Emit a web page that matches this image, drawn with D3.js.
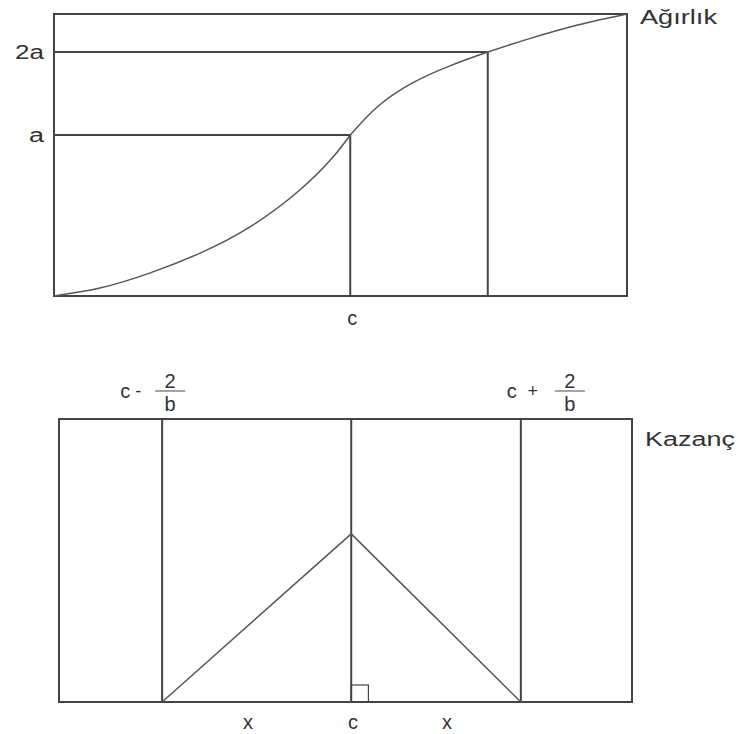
<!DOCTYPE html>
<html>
<head>
<meta charset="utf-8">
<script src="https://cdn.jsdelivr.net/npm/d3@7"></script>
<style>
  body { margin: 0; background: #fff; }
  text { font-family: "Liberation Sans", Arial, sans-serif; fill: #333; }
</style>
</head>
<body>
<div id="chart"></div>
<script>
// Top panel: weight curve (x and y in 0-100 units)
const curveLeft = [[0, 0], [8, 2.8], [16.8, 8.2], [25.5, 15.2], [34.2, 24.5], [42.9, 37.6], [48.7, 49.3], [51.7, 57.1]];
const curveRight = [[51.7, 57.1], [56.5, 67.2], [62.5, 75.5], [69.1, 81.6], [75.7, 86.5], [82.7, 91.1], [91.4, 96.1], [100, 100]];
const levelLabels = ['a', '2a'];
const levelValues = [57.1, 86.5];
const levelX = [51.7, 75.7];
const topTickLabels = ['c'];
const topTickX = [51.7];

// Bottom panel: gain
const gainMarks = [18.0, 51.0, 80.6];
const gainApex = [51.0, 59.4];
const gainBottomLabels = ['x', 'c', 'x'];
const gainBottomX = [33.0, 51.3, 67.7];
const gainTopSigns = ['-', '+'];

const W = 738, H = 734;
const svg = d3.select('#chart').append('svg')
    .attr('width', W)
    .attr('height', H);

const stroke = '#444';

// ---------- top panel ----------
const xTop = d3.scaleLinear().domain([0, 100]).range([54, 627]);
const yTop = d3.scaleLinear().domain([0, 100]).range([296, 14]);

const topPanel = svg.append('g');

// level lines from left edge to curve, then down
levelValues.forEach((v, i) => {
    topPanel.append('line')
        .attr('x1', xTop(0)).attr('x2', xTop(levelX[i]))
        .attr('y1', yTop(v)).attr('y2', yTop(v))
        .attr('stroke', stroke).attr('stroke-width', 2);
    topPanel.append('line')
        .attr('x1', xTop(levelX[i])).attr('x2', xTop(levelX[i]))
        .attr('y1', yTop(v)).attr('y2', yTop(0))
        .attr('stroke', stroke).attr('stroke-width', 2);
    topPanel.append('text')
        .attr('x', xTop(0) - 10)
        .attr('y', yTop(v) + 7)
        .attr('text-anchor', 'end')
        .attr('font-size', 20)
        .attr('textLength', levelLabels[i].length > 1 ? 29 : 15)
        .attr('lengthAdjust', 'spacingAndGlyphs')
        .text(levelLabels[i]);
});

topPanel.append('rect')
    .attr('x', xTop(0)).attr('y', yTop(100))
    .attr('width', xTop(100) - xTop(0))
    .attr('height', yTop(0) - yTop(100))
    .attr('fill', 'none').attr('stroke', stroke).attr('stroke-width', 2);

const lineTop = d3.line()
    .x(d => xTop(d[0]))
    .y(d => yTop(d[1]))
    .curve(d3.curveNatural);

[curveLeft, curveRight].forEach(seg => {
    topPanel.append('path')
        .datum(seg)
        .attr('d', lineTop)
        .attr('fill', 'none')
        .attr('stroke', '#555')
        .attr('stroke-width', 1.5);
});

topTickLabels.forEach((t, i) => {
    topPanel.append('text')
        .attr('x', xTop(topTickX[i]) + 2)
        .attr('y', yTop(0) + 29)
        .attr('text-anchor', 'middle')
        .attr('font-size', 20)
        .text(t);
});

topPanel.append('text')
    .attr('x', 640).attr('y', 24)
    .attr('font-size', 20)
    .attr('textLength', 77)
    .attr('lengthAdjust', 'spacingAndGlyphs')
    .text('Ağırlık');

// ---------- bottom panel ----------
const xBot = d3.scaleLinear().domain([0, 100]).range([59, 632]);
const yBot = d3.scaleLinear().domain([0, 100]).range([702, 419]);

const bot = svg.append('g');

bot.append('rect')
    .attr('x', xBot(0)).attr('y', yBot(100))
    .attr('width', xBot(100) - xBot(0))
    .attr('height', yBot(0) - yBot(100))
    .attr('fill', 'none').attr('stroke', stroke).attr('stroke-width', 2);

bot.selectAll('line.mark')
    .data(gainMarks)
    .enter()
    .append('line')
    .attr('class', 'mark')
    .attr('x1', d => xBot(d)).attr('x2', d => xBot(d))
    .attr('y1', yBot(100)).attr('y2', yBot(0))
    .attr('stroke', stroke).attr('stroke-width', 2);

// triangle
bot.append('path')
    .datum([[gainMarks[0], 0], gainApex, [gainMarks[2], 0]])
    .attr('d', d3.line().x(d => xBot(d[0])).y(d => yBot(d[1])))
    .attr('fill', 'none')
    .attr('stroke', '#555')
    .attr('stroke-width', 1.5);

// right-angle marker
bot.append('rect')
    .attr('x', xBot(gainMarks[1]))
    .attr('y', yBot(6))
    .attr('width', xBot(gainMarks[1] + 3) - xBot(gainMarks[1]))
    .attr('height', yBot(0) - yBot(6))
    .attr('fill', 'none').attr('stroke', stroke).attr('stroke-width', 1.2);

gainBottomLabels.forEach((t, i) => {
    bot.append('text')
        .attr('x', xBot(gainBottomX[i]))
        .attr('y', yBot(0) + 27)
        .attr('text-anchor', 'middle')
        .attr('font-size', 20)
        .text(t);
});

// c -/+ 2/b labels above the outer marks
[gainMarks[0], gainMarks[2]].forEach((m, i) => {
    const cx = xBot(m);
    const g = bot.append('g');
    const sign = gainTopSigns[i];
    const cX = cx - (i === 0 ? 37 : 9);
    const fracX = cx + (i === 0 ? 8 : 49);
    g.append('text')
        .attr('x', cX).attr('y', 398)
        .attr('text-anchor', 'middle')
        .attr('font-size', 20)
        .text('c');
    g.append('text')
        .attr('x', cX + (i === 0 ? 13 : 21)).attr('y', 397)
        .attr('text-anchor', 'middle')
        .attr('font-size', 18)
        .text(sign);
    g.append('text')
        .attr('x', fracX).attr('y', 388)
        .attr('text-anchor', 'middle')
        .attr('font-size', 20)
        .text('2');
    g.append('line')
        .attr('x1', fracX - 15).attr('x2', fracX + 15)
        .attr('y1', 391).attr('y2', 391)
        .attr('stroke', '#666').attr('stroke-width', 1.2);
    g.append('text')
        .attr('x', fracX).attr('y', 411)
        .attr('text-anchor', 'middle')
        .attr('font-size', 20)
        .text('b');
});

bot.append('text')
    .attr('x', 645).attr('y', 446)
    .attr('font-size', 20)
    .attr('textLength', 90)
    .attr('lengthAdjust', 'spacingAndGlyphs')
    .text('Kazanç');
</script>
</body>
</html>
